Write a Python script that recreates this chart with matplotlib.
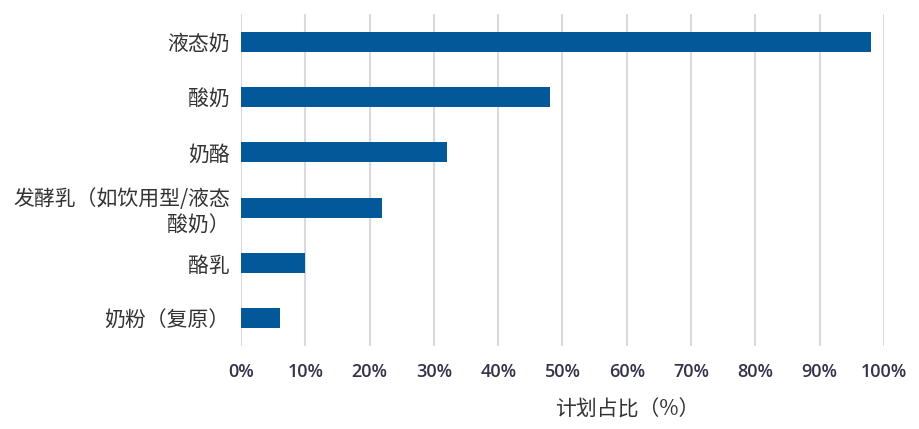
import matplotlib
matplotlib.use("Agg")
import matplotlib.pyplot as plt
import numpy as np

categories = ["液态奶", "酸奶", "奶酪", "发酵乳（如饮用型/液态\n酸奶）", "酪乳", "奶粉（复原）"]
values = [98, 48, 32, 22, 10, 6]
xticks = [0, 10, 20, 30, 40, 50, 60, 70, 80, 90, 100]
xtick_labels = [f"{t}%" for t in xticks]
xlabel = "计划占比（%）"

plt.rcParams['font.family'] = ['Noto Sans CJK SC', 'DejaVu Sans']

fig = plt.figure(figsize=(9.2, 4.29), dpi=100)
ax = fig.add_axes([241/920, 1-346/429, (884-241)/920, (346-14)/429])

y = np.arange(len(categories))
ax.barh(y, values, height=0.36, color="#03589a", zorder=3)
ax.set_ylim(len(categories)-0.5, -0.5)
ax.set_xlim(0, 100)
ax.set_yticks(y)
ax.set_yticklabels(categories, fontsize=15, color="#333333", linespacing=1.25)
ax.set_xticks(xticks)
ax.set_xticklabels(xtick_labels, fontsize=13, color="#33334a", fontweight='semibold',
                   family=['Open Sans', 'DejaVu Sans'])
ax.tick_params(axis='both', length=0)
ax.tick_params(axis='x', pad=12)
ax.tick_params(axis='y', pad=8)
for s in ax.spines.values():
    s.set_visible(False)
ax.grid(axis='x', color="#d9d9de", linewidth=1.5, zorder=0)
ax.set_axisbelow(True)
fig.text(627/920, 1-410/429, xlabel, ha='center', va='center', fontsize=15, color="#333333")

fig.savefig("out.png", dpi=100)
